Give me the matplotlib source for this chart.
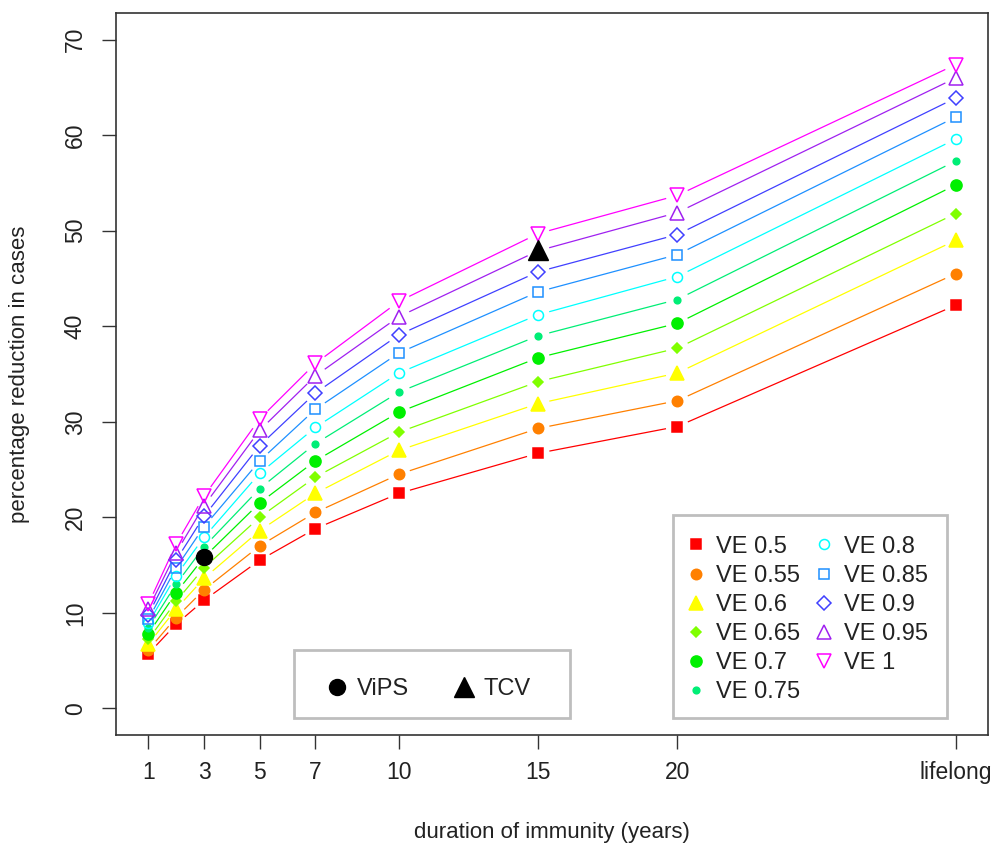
import numpy as np
import matplotlib.pyplot as plt
from matplotlib.lines import Line2D
from matplotlib.patches import Rectangle

plt.rcParams['font.family'] = ['Liberation Sans', 'DejaVu Sans']

# duration of immunity (30 = lifelong)
years = [1, 2, 3, 5, 7, 10, 15, 20, 30]
tick_pos = [1, 3, 5, 7, 10, 15, 20, 30]
tick_lab = ["1", "3", "5", "7", "10", "15", "20", "lifelong"]

ve_labels = ["VE 0.5", "VE 0.55", "VE 0.6", "VE 0.65", "VE 0.7", "VE 0.75",
             "VE 0.8", "VE 0.85", "VE 0.9", "VE 0.95", "VE 1"]

# percentage reduction in cases, one list per VE
ve05 = [5.7, 8.8, 11.3, 15.5, 18.8, 22.5, 26.7, 29.5, 42.2]
ve055 = [6.1, 9.5, 12.4, 17.0, 20.5, 24.5, 29.3, 32.2, 45.5]
ve06 = [6.7, 10.4, 13.6, 18.6, 22.5, 27.0, 31.9, 35.1, 49.0]
ve065 = [7.2, 11.2, 14.7, 20.0, 24.2, 28.9, 34.2, 37.7, 51.8]
ve07 = [7.8, 12.1, 15.8, 21.5, 25.9, 31.0, 36.7, 40.3, 54.8]
ve075 = [8.4, 13.0, 16.9, 23.0, 27.7, 33.1, 39.0, 42.8, 57.3]
ve08 = [8.9, 13.9, 17.9, 24.6, 29.4, 35.1, 41.2, 45.2, 59.6]
ve085 = [9.3, 14.7, 19.0, 25.9, 31.3, 37.2, 43.6, 47.5, 61.9]
ve09 = [9.8, 15.5, 20.1, 27.5, 33.0, 39.1, 45.7, 49.6, 63.9]
ve095 = [10.4, 16.3, 21.2, 29.1, 34.8, 41.0, 47.9, 51.9, 66.0]
ve1 = [10.9, 17.2, 22.2, 30.3, 36.1, 42.6, 49.7, 53.7, 67.4]
series = [ve05, ve055, ve06, ve065, ve07, ve075, ve08, ve085, ve09, ve095, ve1]

# vaccine points
vips = (3, 15.8)
tcv = (15, 48.0)

colors = ["#FF0000", "#FF8000", "#FFFF00", "#80FF00", "#00F000", "#00EE76",
          "#00FFFF", "#1E90FF", "#4040FF", "#A020F0", "#FF00FF"]
# (marker, size, filled)
styles = [("s", 7.5, True), ("o", 7.5, True), ("^", 9.5, True), ("D", 5.4, True),
          ("o", 8.0, True), ("o", 4.8, True), ("o", 7.2, False), ("s", 7.4, False),
          ("D", 6.8, False), ("^", 9.6, False), ("v", 9.6, False)]

fig = plt.figure(figsize=(9.93, 8.48), dpi=100)
ax = fig.add_axes([116 / 993, (848 - 735) / 848, 872 / 993, 722 / 848])
ax.set_xlim(-0.16, 31.16)
ax.set_ylim(-2.8, 72.8)

gap = 11.5  # pixels left free round each point, like R type="b"
for ys, col in zip(series, colors):
    pts = ax.transData.transform(np.column_stack([years, ys]))
    for p0, p1 in zip(pts[:-1], pts[1:]):
        d = p1 - p0
        L = np.hypot(*d)
        if L <= 2 * gap:
            continue
        u = d / L
        seg = ax.transData.inverted().transform([p0 + u * gap, p1 - u * gap])
        ax.plot(seg[:, 0], seg[:, 1], color=col, lw=0.9, solid_capstyle="butt")

handles = []
for ys, col, (m, ms, filled) in zip(series, colors, styles):
    kw = dict(marker=m, markersize=ms, linestyle="none", markeredgewidth=1.1,
              markeredgecolor=col, markerfacecolor=col if filled else "none")
    ax.plot(years, ys, **kw)
    handles.append(Line2D([], [], **kw))

ax.plot(*vips, marker="o", markersize=11.5, color="black", linestyle="none")
ax.plot(*tcv, marker="^", markersize=14, color="black", linestyle="none")

ax.set_xticks(tick_pos)
ax.set_xticklabels(tick_lab)
ax.set_yticks(range(0, 71, 10))
for lab in ax.get_yticklabels():
    lab.set_rotation(90)
    lab.set_va("center")
ax.tick_params(axis="both", length=10, width=1, color="#333333", labelsize=16.5,
               direction="out", labelcolor="#222222")
ax.tick_params(axis="x", pad=9)
ax.tick_params(axis="y", pad=11)
for s in ax.spines.values():
    s.set_color("#333333")
    s.set_linewidth(1.2)

ax.set_xlabel("duration of immunity (years)", fontsize=16, labelpad=27,
              color="#222222")
ax.set_ylabel("percentage reduction in cases", fontsize=16, labelpad=24,
              color="#222222")

# legend frames
ax.add_patch(Rectangle((0.6388, 0.0235), 0.3142, 0.2812, transform=ax.transAxes,
                       fill=False, edgecolor="#BEBEBE", lw=2, zorder=5))
ax.add_patch(Rectangle((0.204, 0.0235), 0.3166, 0.0942, transform=ax.transAxes,
                       fill=False, edgecolor="#BEBEBE", lw=2, zorder=5))

leg1 = ax.legend(handles, ve_labels, ncol=2, frameon=False, fontsize=17,
                 loc="upper left", bbox_to_anchor=(0.652, 0.276),
                 handlelength=1.0, handletextpad=0.35, columnspacing=0.5,
                 labelspacing=0.3, borderpad=0, borderaxespad=0)
for t in leg1.get_texts():
    t.set_color("#222222")
ax.add_artist(leg1)

h2 = [Line2D([], [], marker="o", markersize=11.5, color="black", linestyle="none"),
      Line2D([], [], marker="^", markersize=14, color="black", linestyle="none")]
leg2 = ax.legend(h2, ["ViPS", "TCV"], ncol=2, frameon=False, fontsize=17,
                 loc="center left", bbox_to_anchor=(0.24, 0.064),
                 handlelength=1.0, handletextpad=0.35, columnspacing=1.8,
                 borderpad=0, borderaxespad=0)
for t in leg2.get_texts():
    t.set_color("#222222")

fig.savefig("out.png", dpi=100)
